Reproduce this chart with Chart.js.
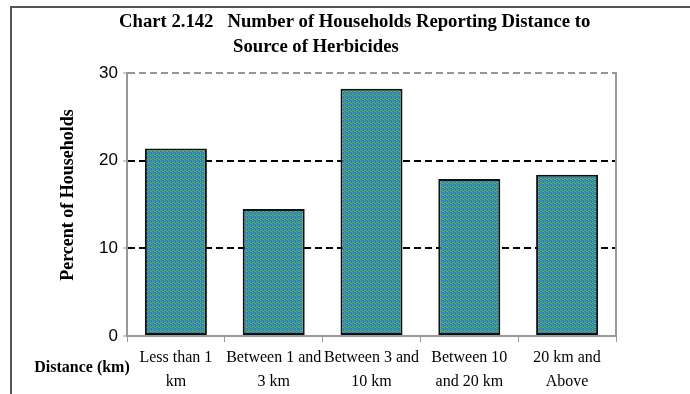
<!DOCTYPE html>
<html>
<head>
<meta charset="utf-8">
<script src="https://cdn.jsdelivr.net/npm/chart.js@4.4.0/dist/chart.umd.min.js"></script>
<style>
  html, body { margin: 0; padding: 0; background: #fff; }
</style>
</head>
<body>
<canvas id="chart" width="690" height="394"></canvas>
<script>
// data
const categories = [
  ["Less than 1", "km"],
  ["Between 1 and", "3 km"],
  ["Between 3 and", "10 km"],
  ["Between 10", "and 20 km"],
  ["20 km and", "Above"]
];
const percentValues = [21.4, 14.5, 28.2, 17.9, 18.4];
const yTicks = [0, 10, 20, 30];
const titleLines = ["Chart 2.142   Number of Households Reporting Distance to", "Source of Herbicides"];
const yTitle = "Percent of Households";
const xTitle = "Distance (km)";

const SERIF = "'Liberation Serif', 'Times New Roman', serif";
const SANS = "'Liberation Sans', Arial, sans-serif";

// blue/green dither fill like the original bars
function makeDither() {
  const c = document.createElement("canvas");
  c.width = 4;
  c.height = 4;
  const g = c.getContext("2d");
  g.fillStyle = "#3474e0";
  g.fillRect(0, 0, 4, 4);
  g.fillStyle = "#52c424";
  [[0, 0], [2, 1], [1, 2], [3, 3], [2, 3], [0, 2]].forEach(([x, y]) => g.fillRect(x, y, 1, 1));
  return c;
}

const ctx = document.getElementById("chart").getContext("2d");
const dither = ctx.createPattern(makeDither(), "repeat");

// frame, titles drawn straight on the canvas
const decorations = {
  id: "decorations",
  beforeDraw(chart) {
    const c = chart.ctx;
    c.save();
    c.fillStyle = "#fff";
    c.fillRect(0, 0, chart.width, chart.height);
    c.strokeStyle = "#555";
    c.lineWidth = 2;
    c.beginPath();
    c.moveTo(11, 394);
    c.lineTo(11, 7);
    c.lineTo(690, 7);
    c.stroke();
    c.restore();
  },
  afterDraw(chart) {
    const c = chart.ctx;
    c.save();
    c.fillStyle = "#000";
    c.textBaseline = "middle";
    c.font = "bold 18.7px " + SERIF;
    c.textAlign = "left";
    c.fillText(titleLines[0], 119, 22);
    c.fillText(titleLines[1], 233, 47);
    c.font = "bold 16px " + SERIF;
    c.textAlign = "center";
    c.fillText(xTitle, 82, 368);
    // y title, rotated
    c.translate(68, 195);
    c.rotate(-Math.PI / 2);
    c.font = "bold 18px " + SERIF;
    c.fillText(yTitle, 0, 0);
    c.restore();
  }
};

new Chart(ctx, {
  type: "bar",
  data: {
    labels: categories,
    datasets: [
      {
        data: percentValues,
        backgroundColor: dither,
        borderColor: "#111",
        borderWidth: 2,
        borderSkipped: false,
        categoryPercentage: 1,
        barPercentage: 0.634
      }
    ]
  },
  options: {
    responsive: false,
    animation: false,
    layout: { padding: { top: 73, left: 0, right: 0, bottom: 0 } },
    plugins: {
      legend: { display: false },
      tooltip: { enabled: false },
      title: { display: false }
    },
    scales: {
      x: {
        afterFit: (scale) => { scale.height = 58; },
        grid: {
          drawOnChartArea: false,
          tickLength: 6,
          tickColor: "#999",
          color: "#999"
        },
        border: { color: "#999", width: 2 },
        ticks: {
          color: "#000",
          padding: 4,
          maxRotation: 0,
          autoSkip: false,
          font: { family: SERIF, size: 16, lineHeight: 1.5 }
        }
      },
      y: {
        min: 0,
        max: 30,
        afterFit: (scale) => { scale.width = 127; },
        afterBuildTicks: (scale) => { scale.ticks = yTicks.map((v) => ({ value: v })); },
        grid: {
          lineWidth: 2,
          color: (c) => {
            if (!c.tick) return "#000";
            if (c.tick.value === 0) return "rgba(0,0,0,0)";
            if (c.tick.value === 30) return "#8c9a9a";
            return "#000";
          },
          tickLength: 4,
          tickColor: "#999",
          tickWidth: 1
        },
        border: {
          color: "#999",
          width: 2,
          dash: (c) => (c.tick && c.tick.value === 0 ? [] : [7, 4])
        },
        ticks: {
          color: "#000",
          padding: 5,
          font: { family: SANS, size: 17 }
        }
      },
      y2: {
        position: "right",
        min: 0,
        max: 30,
        afterFit: (scale) => { scale.width = 74; },
        grid: { drawOnChartArea: false, drawTicks: false },
        border: { color: "#999", width: 2 },
        ticks: { display: false }
      }
    }
  },
  plugins: [decorations]
});
</script>
</body>
</html>
